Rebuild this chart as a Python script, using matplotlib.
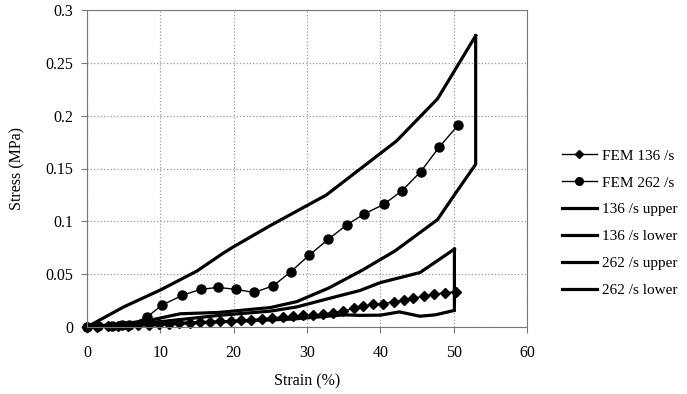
import matplotlib
matplotlib.use("Agg")
import matplotlib.pyplot as plt
from matplotlib.lines import Line2D

plt.rcParams['font.family'] = ['Liberation Serif', 'DejaVu Serif']

# FEM 136 /s (diamonds)
fem136_x = [0, 1.4, 2.8, 4.2, 5.6, 7.0, 8.4, 9.8, 11.2, 12.6, 14.0, 15.4, 16.8, 18.2,
            19.6, 21.0, 22.4, 23.8, 25.2, 26.7, 28.1, 29.5, 30.8, 32.2, 33.6, 34.9,
            36.4, 37.6, 39.0, 40.35, 41.85, 43.2, 44.4, 45.9, 47.25, 48.75, 50.3]
fem136_y = [0, 0.0003, 0.0006, 0.001, 0.0013, 0.0017, 0.002, 0.0025, 0.003, 0.0035,
            0.004, 0.0045, 0.005, 0.0055, 0.006, 0.0065, 0.007, 0.0078, 0.0086, 0.0095,
            0.0102, 0.0111, 0.0111, 0.0121, 0.0137, 0.0149, 0.0178, 0.0197, 0.0213,
            0.0222, 0.0238, 0.0254, 0.0270, 0.0292, 0.0308, 0.0323, 0.0333]

# FEM 262 /s (circles)
fem262_x = [0, 1.5, 3.4, 4.8, 5.7, 8.2, 10.2, 13.0, 15.5, 17.9, 20.3, 22.8, 25.4,
            27.8, 30.3, 32.9, 35.4, 37.8, 40.45, 42.9, 45.5, 48.0, 50.6]
fem262_y = [0, 0.0005, 0.001, 0.0015, 0.002, 0.0095, 0.0206, 0.030, 0.0356, 0.0375,
            0.0356, 0.0327, 0.039, 0.0524, 0.068, 0.083, 0.0965, 0.107, 0.116, 0.1286,
            0.147, 0.170, 0.191]

# Experimental envelopes
up136_x = [0, 10, 18, 25, 28.6, 33, 37.2, 40, 45.4, 50.1]
up136_y = [0, 0.005, 0.011, 0.015, 0.019, 0.027, 0.0345, 0.042, 0.0515, 0.0737]

lo136_x = [0, 10, 18, 28, 35, 37.2, 40, 42.6, 45.4, 47.5, 50.1, 50.1]
lo136_y = [0, 0.003, 0.0048, 0.0075, 0.0115, 0.011, 0.0112, 0.0143, 0.0102, 0.0115, 0.0157, 0.0737]

up262_x = [0, 5, 10, 15, 18.6, 20, 25, 32.65, 42.2, 47.8, 53]
up262_y = [0, 0.019, 0.035, 0.053, 0.070, 0.076, 0.096, 0.125, 0.176, 0.216, 0.2756]

lo262_x = [0, 6, 9, 12.7, 18, 25, 28.6, 33, 37.6, 42, 47.8, 50, 53, 53]
lo262_y = [0, 0.004, 0.007, 0.0125, 0.0138, 0.0184, 0.024, 0.037, 0.054, 0.072,
           0.1016, 0.124, 0.154, 0.2756]

x_ticks = [0, 10, 20, 30, 40, 50, 60]
y_ticks = [0, 0.05, 0.1, 0.15, 0.2, 0.25, 0.3]
y_labels = ['0', '0.05', '0.1', '0.15', '0.2', '0.25', '0.3']

fig = plt.figure(figsize=(6.87, 3.94), dpi=100)
ax = fig.add_axes([87/687, 1-327/394, 440/687, 317/394])

lw = 2.3
ax.plot(up136_x, up136_y, color='black', lw=lw, solid_joinstyle='miter', label='136 /s upper')
ax.plot(lo136_x, lo136_y, color='black', lw=lw, solid_joinstyle='miter', label='136 /s lower')
ax.plot(up262_x, up262_y, color='black', lw=lw, solid_joinstyle='miter', label='262 /s upper')
ax.plot(lo262_x, lo262_y, color='black', lw=lw, solid_joinstyle='miter', label='262 /s lower')
ax.plot(fem136_x, fem136_y, color='black', lw=1, marker='D', ms=5.5, label='FEM 136 /s')
ax.plot(fem262_x, fem262_y, color='black', lw=1, marker='o', ms=6.5, label='FEM 262 /s')

ax.set_xlim(0, 60)
ax.set_ylim(0, 0.3)
ax.set_xticks(x_ticks)
ax.set_yticks(y_ticks)
ax.set_yticklabels(y_labels)
ax.tick_params(labelsize=11.5, length=4, color='#777777', direction='out')
ax.tick_params(axis='x', pad=9)
ax.tick_params(axis='y', pad=6)
ax.grid(True, color='#999999', linestyle=':', linewidth=0.9)
for s in ax.spines.values():
    s.set_color('#777777')
ax.set_xlabel('Strain (%)', fontsize=11.5, labelpad=9)
ax.set_ylabel('Stress (MPa)', fontsize=11.5, labelpad=14)
for l in ax.lines:
    l.set_clip_on(False)

handles = [
    Line2D([], [], color='black', lw=1, marker='D', ms=4.5),
    Line2D([], [], color='black', lw=1, marker='o', ms=5.5),
    Line2D([], [], color='black', lw=lw),
    Line2D([], [], color='black', lw=lw),
    Line2D([], [], color='black', lw=lw),
    Line2D([], [], color='black', lw=lw),
]
labels = ['FEM 136 /s', 'FEM 262 /s', '136 /s upper', '136 /s lower', '262 /s upper', '262 /s lower']
fig.legend(handles, labels, loc='center left', bbox_to_anchor=(548/687, 1-223/394),
           frameon=False, fontsize=11, handlelength=2.3, labelspacing=0.86,
           handletextpad=0.35)

fig.savefig('out.png', dpi=100)
